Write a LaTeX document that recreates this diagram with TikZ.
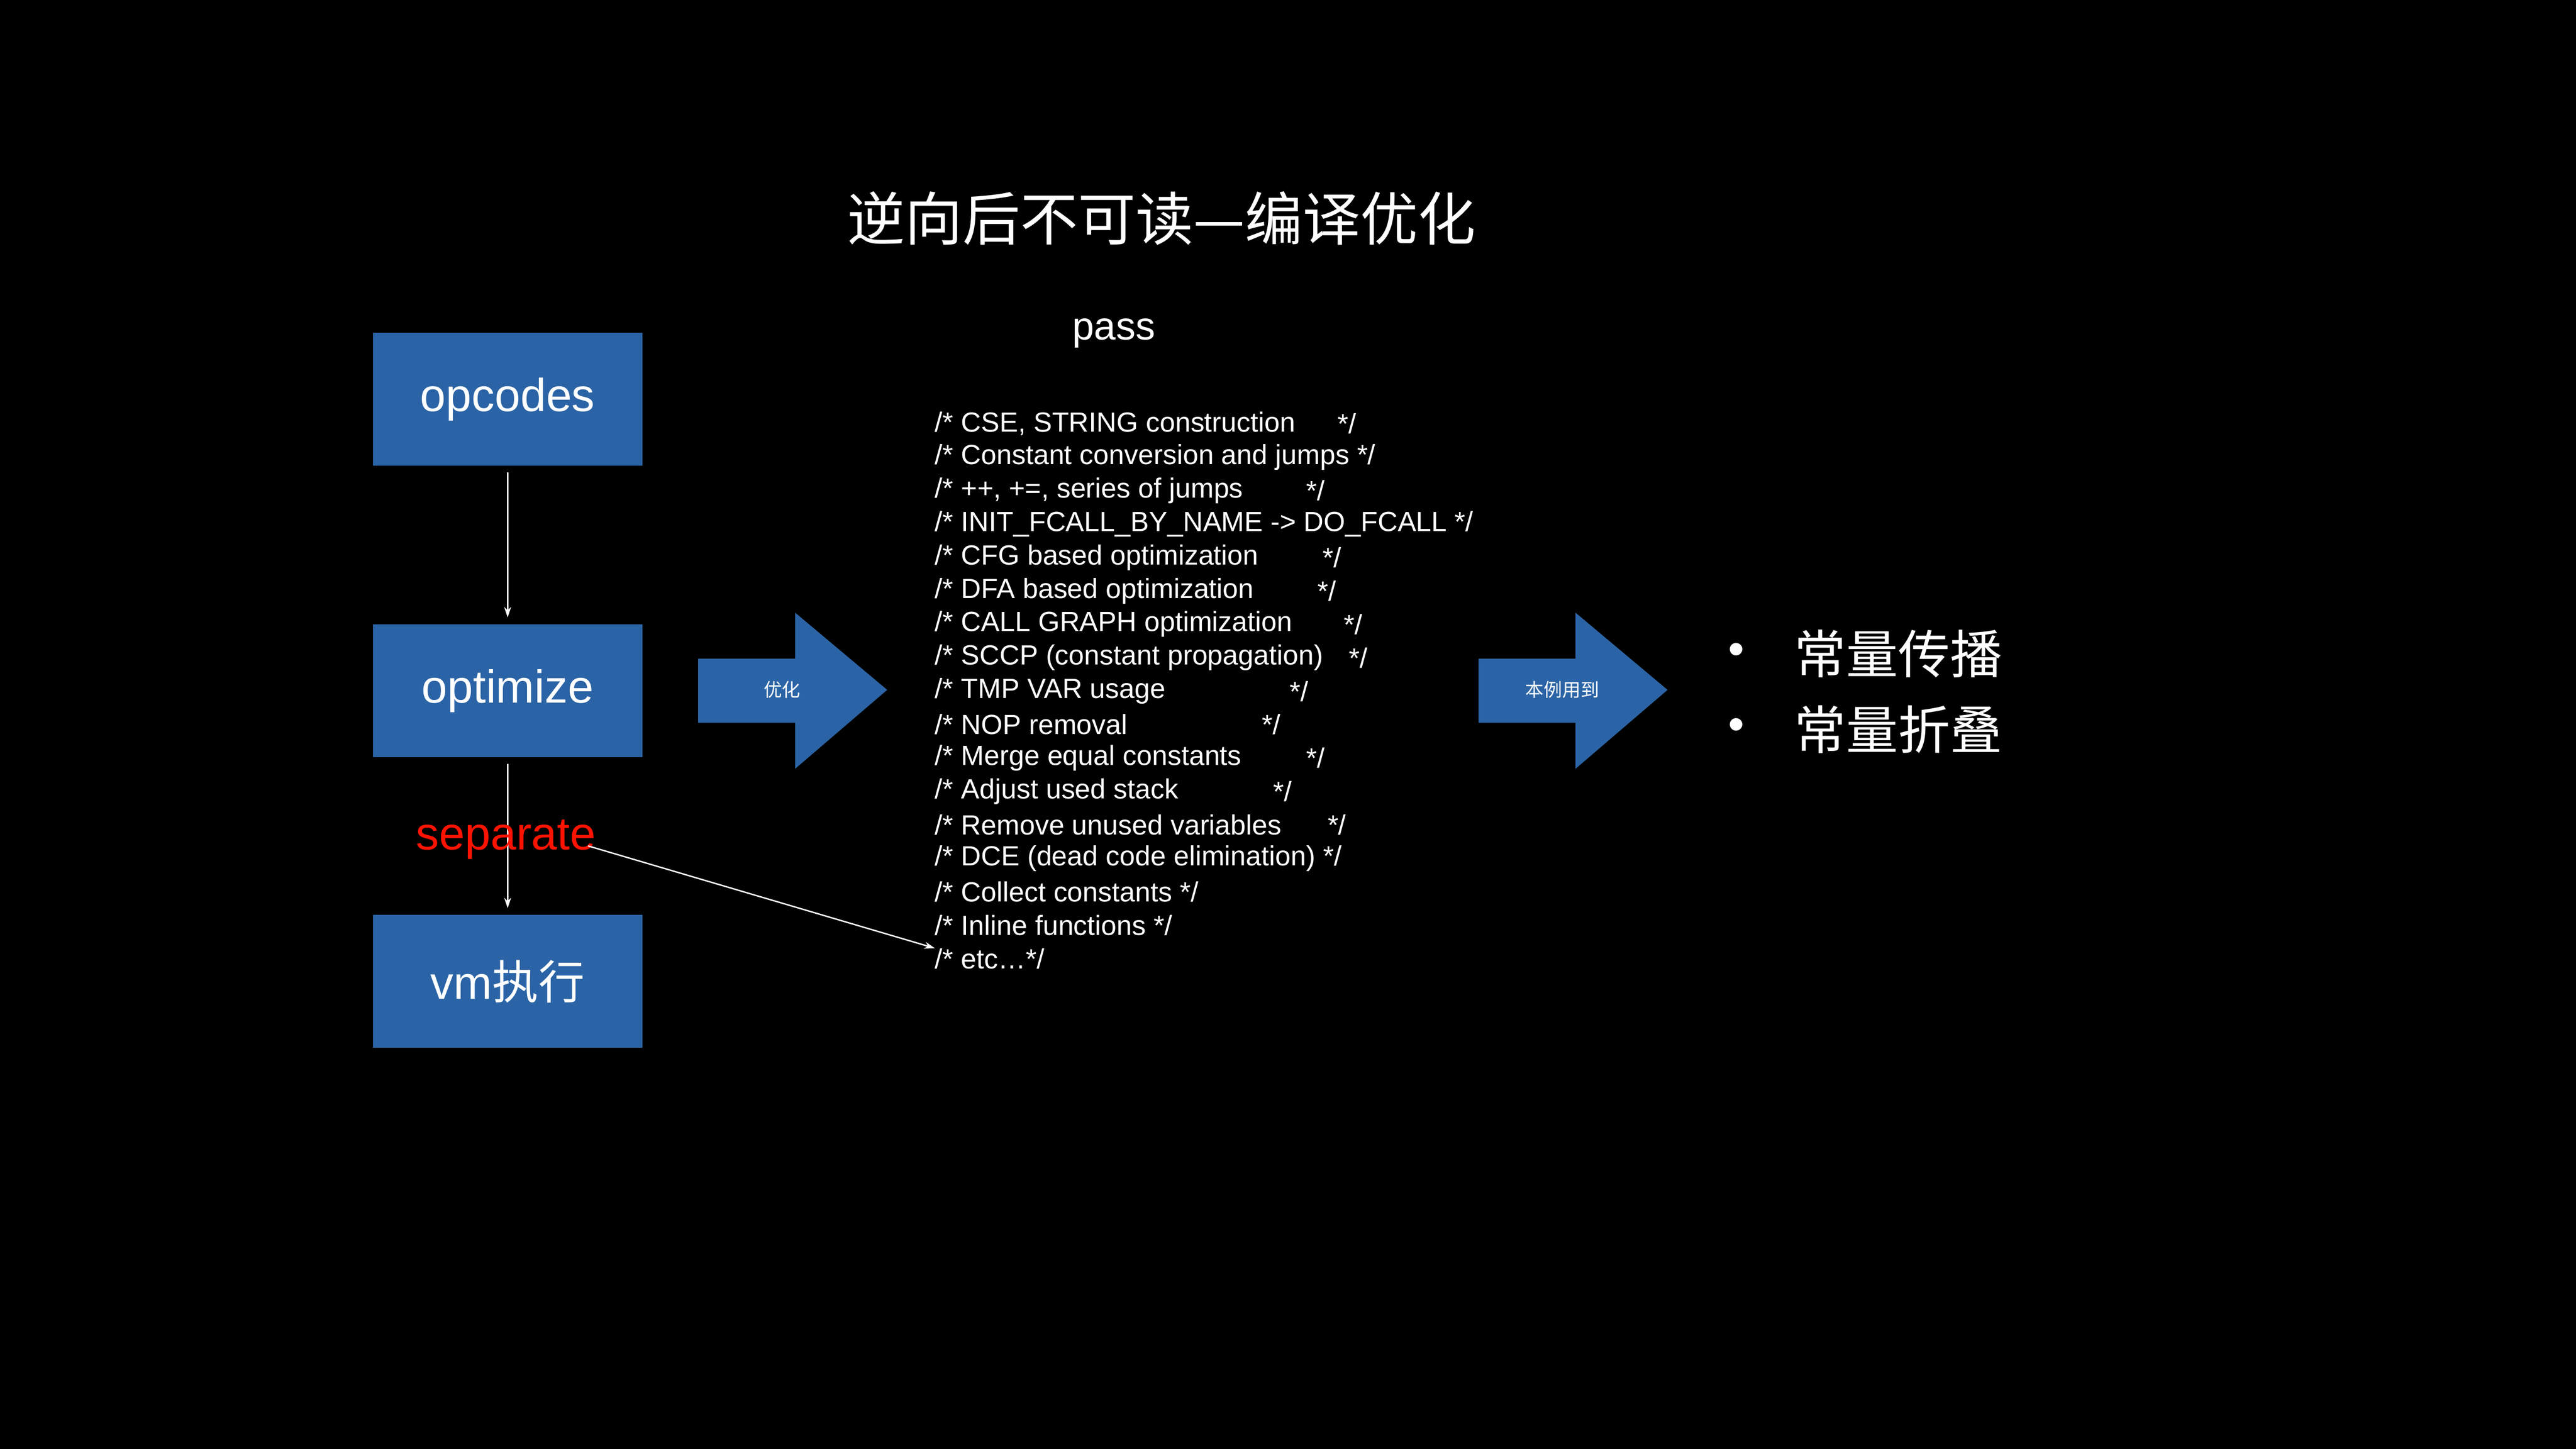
\documentclass[tikz,border=0pt]{standalone}
\usepackage{fontspec}
\usetikzlibrary{arrows.meta}
\setmainfont{Liberation Sans}
\newfontfamily\cjk{Noto Sans CJK SC}
\newcommand{\fsz}[1]{\fontsize{#1}{#1}\selectfont}
\begin{document}
\begin{tikzpicture}[x=0.05cm,y=-0.05cm,
  box/.style={fill=boxblue,minimum width=164*0.05cm,minimum height=81*0.05cm,inner sep=0,text=white,font=\fsz{40pt}},
  code/.style={anchor=west,inner sep=0,text=white,font=\fsz{24pt}},
  lnk/.style={draw=white,line width=1.2pt,-{Stealth[length=9pt,width=6pt]}},
  bigarrow/.style={fill=boxblue}]
\definecolor{boxblue}{HTML}{2B64A6}
\fill[black] (0,0) rectangle (1568,882);
\useasboundingbox (0,0) rectangle (1568,882);
\node[text=white,font=\cjk\fsz{50pt}] (title) at (707,133) {逆向后不可读—编译优化};
\node[text=white,font=\fsz{34pt}] (pass) at (678,203) {pass};
\node[box] (opc) at (309,243) {opcodes};
\node[box] (opt) at (309,420.5) {optimize};
\node[box] (vm) at (309,597.5) {vm{\cjk 执行}};
\draw[lnk] ([yshift=-4*0.05cm]opc.south) -- ([yshift=4*0.05cm]opt.north);
\draw[lnk] ([yshift=-4*0.05cm]opt.south) -- ([yshift=4*0.05cm]vm.north);
\node[text=red!85!orange,font=\fsz{40pt}] (sep) at (308,511) {separate};
% code lines
\def\ls{20.35}
\foreach \i/\t/\cx in {
0/{/* CSE, STRING construction}/814,
1/{/* Constant conversion and jumps */}/0,
2/{/* ++, +=, series of jumps}/795,
3/{/* INIT\_FCALL\_BY\_NAME -> DO\_FCALL */}/0,
4/{/* CFG based optimization}/805,
5/{/* DFA based optimization}/802,
6/{/* CALL GRAPH optimization}/818,
7/{/* SCCP (constant propagation)}/821,
8/{/* TMP VAR usage}/785,
9/{/* NOP removal}/768,
10/{/* Merge equal constants}/795,
11/{/* Adjust used stack}/775,
12/{/* Remove unused variables}/808,
13/{/* DCE (dead code elimination) */}/0,
14/{/* Collect constants */}/0,
15/{/* Inline functions */}/0}{
  \node[code] (c\i) at (569,258+\i*\ls) {\t};
  \ifnum\cx>0 \node[code] at (\cx,258+\i*\ls) {*/};\fi
}
\node[code] (c16) at (569,258+16*\ls) {/* etc…*/};
\coordinate (sepend) at (358,515);
\draw[lnk] (sepend) -- (c16.north west);
% big arrows
\fill[bigarrow] (425,401) -- (484,401) -- (484,373) -- (540,420) -- (484,468) -- (484,440) -- (425,440) -- cycle;
\node[text=white,font=\cjk\fsz{16pt}] (l1) at (476,420) {优化};
\fill[bigarrow] (900,401) -- (959,401) -- (959,373) -- (1015,420) -- (959,468) -- (959,440) -- (900,440) -- cycle;
\node[text=white,font=\cjk\fsz{16pt}] (l2) at (951,420) {本例用到};
% bullets
\node[text=white,font=\fsz{40pt}] (b1) at (1057,398) {•};
\node[text=white,font=\fsz{40pt}] (b2) at (1057,444) {•};
\node[anchor=west,inner sep=0,text=white,font=\cjk\fsz{45pt}] (t1) at (1092,398) {常量传播};
\node[anchor=west,inner sep=0,text=white,font=\cjk\fsz{45pt}] (t2) at (1092,444) {常量折叠};
\end{tikzpicture}
\end{document}
